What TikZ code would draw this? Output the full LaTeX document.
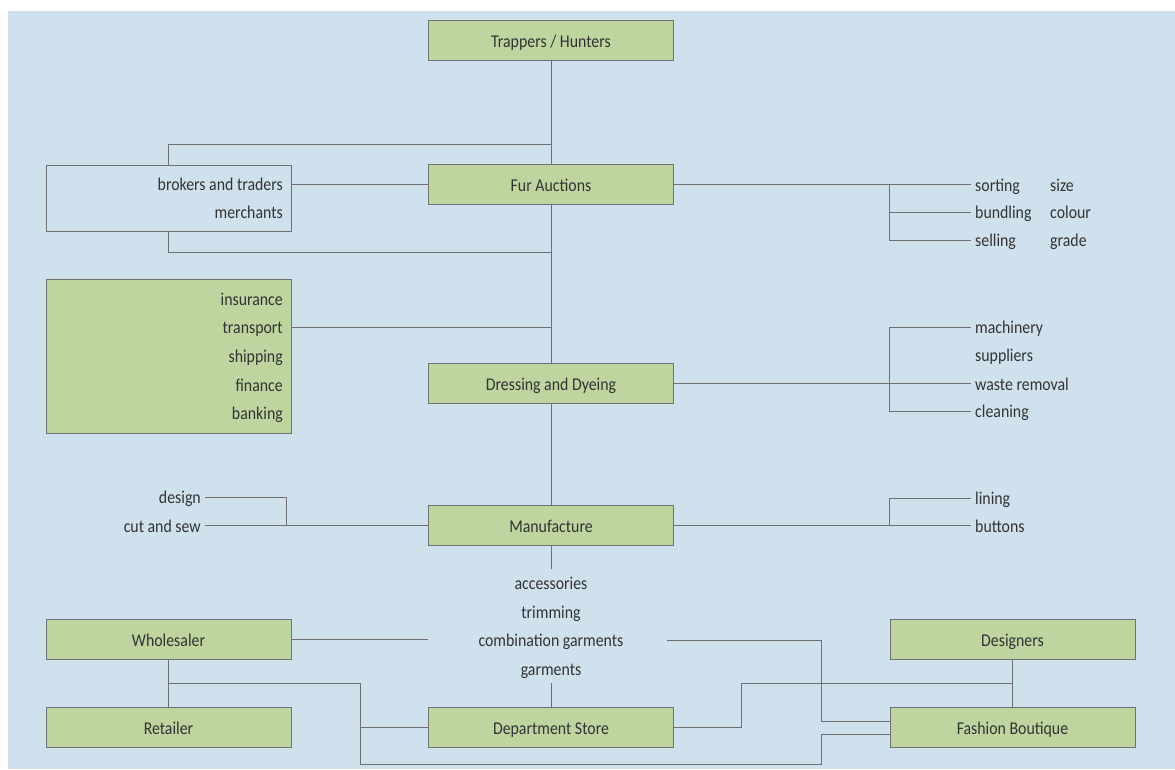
\documentclass[tikz,border=0pt]{standalone}
\usepackage{fontspec}
\setmainfont{Carlito}[FakeStretch=0.88]
\usetikzlibrary{positioning}
\definecolor{bgblue}{HTML}{CFE1EC}
\definecolor{boxgreen}{HTML}{BED5A0}
\definecolor{edgegray}{HTML}{707070}
\definecolor{txtgray}{HTML}{333333}
\newcommand\diagfont{\fontsize{18}{21}\selectfont}

\begin{document}
\begin{tikzpicture}[x=1pt,y=-1pt,
  box/.style={draw=edgegray,fill=boxgreen,line width=1pt,minimum width=245pt,minimum height=40pt,inner sep=0pt,text height=14pt,text depth=0pt,text=txtgray,font=\diagfont},
  frame/.style={draw=edgegray,line width=1pt,minimum width=245pt,inner sep=0pt},
  ln/.style={draw=edgegray,line width=1pt},
  lbl/.style={inner xsep=4pt,inner ysep=0pt,text height=13pt,text depth=0pt,text=txtgray,font=\diagfont}]

\useasboundingbox (0,0) rectangle (1175,769);
\fill[bgblue] (8,11) rectangle (1175,769);

\node[box] (trap) at (551,40) {Trappers / Hunters};
\node[box] (fur) at (551,184.5) {Fur Auctions};
\node[box] (dress) at (551,383.5) {Dressing and Dyeing};
\node[box] (manu) at (551,525.5) {Manufacture};
\node[box] (dept) at (551,727) {Department Store};

\node[box] (whole) at (168.5,639.5) {Wholesaler};
\node[box] (retail) at (168.5,727) {Retailer};
\node[box] (design) at (1012.5,639.5) {Designers};
\node[box] (bout) at (1012.5,727) {Fashion Boutique};

\node[frame,minimum height=66pt] (brk) at (168.5,198) {};
\node[lbl,anchor=east] (brokers) at (287,184) {brokers and traders};
\node[lbl,anchor=east] (merchants) at (287,212) {merchants};

\node[frame,fill=boxgreen,minimum height=154pt] (fin) at (168.5,356) {};
\node[lbl,anchor=east] (insurance) at (287,299) {insurance};
\node[lbl,anchor=east] (transport) at (287,327) {transport};
\node[lbl,anchor=east] (shipping) at (287,356) {shipping};
\node[lbl,anchor=east] (finance) at (287,385) {finance};
\node[lbl,anchor=east] (banking) at (287,413) {banking};

\node[lbl,anchor=west] (sorting) at (971,184.5) {sorting};
\node[lbl,anchor=west] (bundling) at (971,212) {bundling};
\node[lbl,anchor=west] (selling) at (971,240) {selling};
\node[lbl,anchor=west] (size) at (1046,184.5) {size};
\node[lbl,anchor=west] (colour) at (1046,212) {colour};
\node[lbl,anchor=west] (grade) at (1046,240) {grade};

\node[lbl,anchor=west] (machinery) at (971,327) {machinery};
\node[lbl,anchor=west] (suppliers) at (971,355) {suppliers};
\node[lbl,anchor=west] (waste) at (971,383.5) {waste removal};
\node[lbl,anchor=west] (cleaning) at (971,411) {cleaning};

\node[lbl,anchor=west] (lining) at (971,498) {lining};
\node[lbl,anchor=west] (buttons) at (971,525.5) {buttons};
\node[lbl,anchor=east] (designing) at (205,497) {design};
\node[lbl,anchor=east] (cutsew) at (205,525.5) {cut and sew};

\node[lbl] (accessories) at (551,583) {accessories};
\node[lbl] (trimming) at (551,612) {trimming};
\node[lbl] (combo) at (551,640) {combination garments};
\node[lbl] (garments) at (551,669) {garments};

\coordinate (j1) at (551,144);
\coordinate (j2) at (551,252);
\coordinate (j3) at (551,327);
\coordinate (r1) at (889,184.5);
\coordinate (r2) at (889,383.5);
\coordinate (r3) at (889,525.5);
\coordinate (l1) at (286,525.5);
\coordinate (m1) at (551,569);
\coordinate (m2) at (551,683);
\coordinate (c1) at (667,640);
\coordinate (c2) at (821,721);
\coordinate (d1) at (741,683);
\coordinate (w1) at (168.5,683);
\coordinate (w2) at (360,683);
\coordinate (w3) at (360,764);
\coordinate (w4) at (821,764);
\coordinate (w5) at (821,734);

\draw[ln] (trap) -- (fur);
\draw[ln] (fur) -- (dress);
\draw[ln] (dress) -- (manu);
\draw[ln] (brk.north) |- (j1);
\draw[ln] (brk.south) |- (j2);
\draw[ln] (fin.east |- j3) -- (j3);
\draw[ln] (fur.west -| brk.east) -- (fur.west);

\draw[ln] (fur.east) -- (sorting.west);
\draw[ln] (r1) |- (selling.west);
\draw[ln] (r1 |- bundling.west) -- (bundling.west);

\draw[ln] (dress.east) -- (waste.west);
\draw[ln] (machinery.west) -| (r2) |- (cleaning.west);

\draw[ln] (manu.east) -- (buttons.west);
\draw[ln] (lining.west) -| (r3);
\draw[ln] (manu.west) -- (cutsew.east);
\draw[ln] (designing.east) -| (l1);

\draw[ln] (manu) -- (m1);
\draw[ln] (m2) -- (dept);

\draw[ln] (whole.east) -- (whole.east -| manu.west);
\draw[ln] (c1) -| (c2) -- (c2 -| bout.west);
\draw[ln] (dept.east) -| (d1) -- (d1 -| design);
\draw[ln] (design) -- (bout);

\draw[ln] (whole) -- (retail);
\draw[ln] (w1) -- (w2) -- (w3) -- (w4) -- (w5) -- (w5 -| bout.west);
\draw[ln] (w2 |- dept) -- (dept.west);

\end{tikzpicture}
\end{document}
